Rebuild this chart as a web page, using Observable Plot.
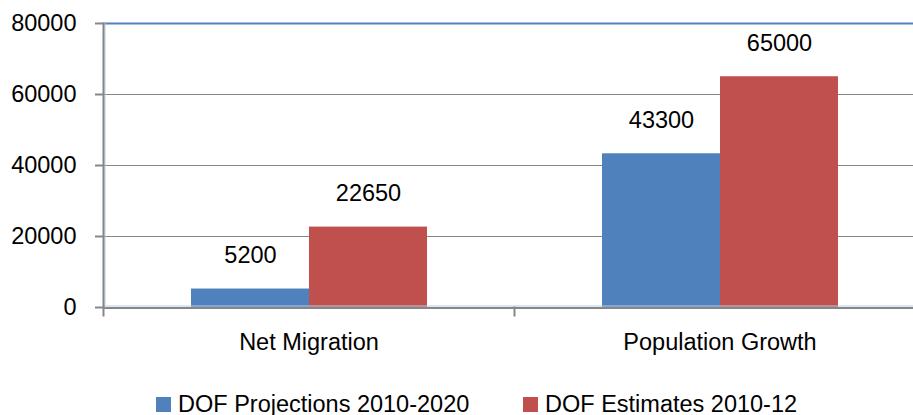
<!DOCTYPE html>
<html>
<head>
<meta charset="utf-8">
<script src="https://cdn.jsdelivr.net/npm/d3@7"></script>
<script src="https://cdn.jsdelivr.net/npm/@observablehq/plot@0.6"></script>
<style>
  html, body { margin: 0; padding: 0; background: #fff; }
  #wrap { position: relative; width: 913px; height: 415px; overflow: hidden; font-family: "Liberation Sans", Arial, sans-serif; }
  .legend-item { position: absolute; top: 392px; height: 24px; display: flex; align-items: center; font-size: 23.5px; color: #000; white-space: nowrap; }
  .legend-item .sw { width: 15px; height: 15px; margin-right: 7px; }
</style>
</head>
<body>
<div id="wrap"></div>
<script>
const categories = ["Net Migration", "Population Growth"];
const series = ["DOF Projections 2010-2020", "DOF Estimates 2010-12"];
const projections = [5200, 43300];
const estimates = [22650, 65000];
const yTicks = [0, 20000, 40000, 60000, 80000];
const colors = ["#4f81bd", "#c0504d"];

const data = [];
categories.forEach((c, i) => {
  data.push({category: c, series: series[0], value: projections[i]});
  data.push({category: c, series: series[1], value: estimates[i]});
});

const width = 913, height = 375, marginTop = 23, marginBottom = 68, marginLeft = 103, marginRight = -12;
const plotH = height - marginTop - marginBottom;

const chart = Plot.plot({
  width, height, marginTop, marginBottom, marginLeft, marginRight,
  style: {fontFamily: "Liberation Sans, Arial, sans-serif", fontSize: "23.5px", color: "#000", background: "#fff", overflow: "hidden"},
  fx: {domain: categories, padding: 0, label: null},
  x: {domain: series, paddingInner: 0, paddingOuter: 0.74, axis: null},
  y: {domain: [0, 80000], axis: null, label: null},
  color: {domain: series, range: colors},
  marks: [
    Plot.ruleY([20000, 40000, 60000], {stroke: "#868686", strokeWidth: 1}),
    Plot.ruleY([80000], {stroke: "#4f81bd", strokeWidth: 2}),
    Plot.barY(data, {fx: "category", x: "series", y: "value", fill: "series"}),
    Plot.ruleY([0], {stroke: "#b9cde5", strokeWidth: 1, dy: -1.5}),
    Plot.ruleY([0], {stroke: "#868686", strokeWidth: 2, dy: 0.5}),
    Plot.frame({anchor: "left", stroke: "#b9cde5", strokeWidth: 1, dx: 1.5, facetAnchor: "left"}),
    Plot.frame({anchor: "left", stroke: "#868686", strokeWidth: 2, facetAnchor: "left"}),
    Plot.frame({anchor: "left", stroke: "#868686", strokeWidth: 2, insetTop: plotH, insetBottom: -8}),
    Plot.axisY({ticks: yTicks, tickSize: 8, tickPadding: 19, stroke: "#868686", strokeWidth: 2, tickFormat: d => String(d), fill: "#000", strokeOpacity: 1, label: null}),
    Plot.axisFx({anchor: "bottom", tickSize: 0, tickPadding: 26, label: null, fill: "#000"}),
    Plot.text(data, {fx: "category", x: "series", y: "value", text: d => String(d.value), lineAnchor: "bottom", dy: -26, fill: "#000"})
  ]
});

const wrap = document.getElementById("wrap");
wrap.appendChild(chart);

const legendLeft = [156, 523];
series.forEach((s, i) => {
  const item = document.createElement("div");
  item.className = "legend-item";
  item.style.left = legendLeft[i] + "px";
  const sw = document.createElement("span");
  sw.className = "sw";
  sw.style.background = colors[i];
  item.appendChild(sw);
  item.appendChild(document.createTextNode(s));
  wrap.appendChild(item);
});
</script>
</body>
</html>
